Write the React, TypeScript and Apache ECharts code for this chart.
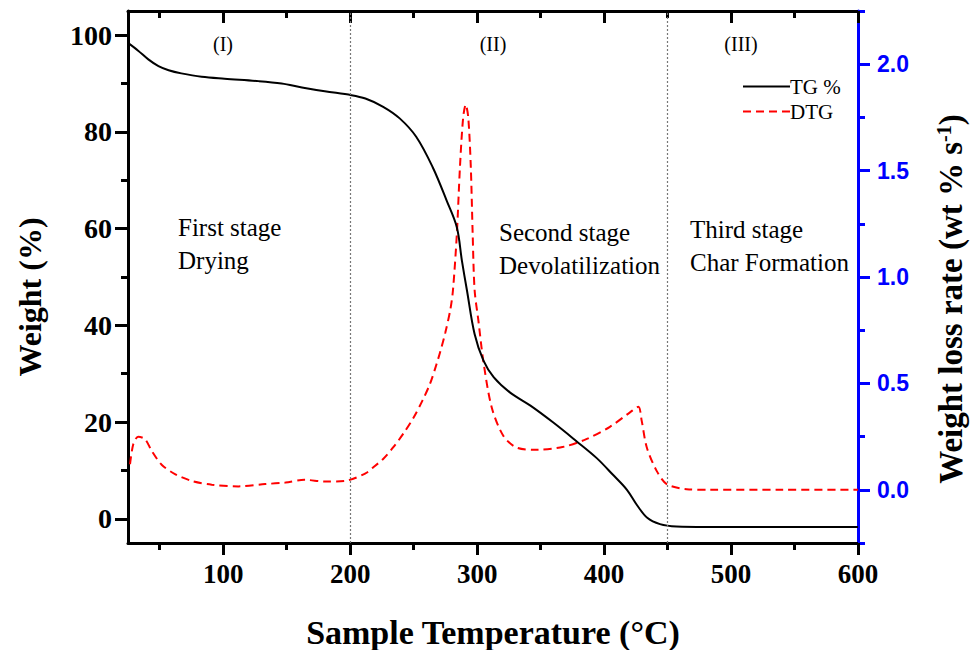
import React, { useEffect, useRef } from "react";
import * as echarts from "echarts";

const tgTemp = [25, 33, 41, 49, 57, 67, 83, 101, 128, 146, 162, 180, 201, 212, 226, 239, 252, 265, 276, 284, 288, 292, 298, 305, 313, 326, 342, 360, 378, 394, 407, 418, 426, 434, 444, 457, 480, 540, 600];
const tgWeight = [98.4, 96.8, 95.0, 93.6, 92.75, 92.1, 91.4, 91.0, 90.5, 90.0, 89.2, 88.4, 87.6, 86.9, 85.2, 82.8, 79, 72.7, 65.8, 60.3, 53.4, 47.2, 38.2, 32.7, 29.3, 26.1, 23.4, 19.9, 16.1, 12.6, 9.1, 6.0, 2.8, 0.2, -1.1, -1.6, -1.7, -1.7, -1.7];

const dtgTemp = [26.6, 29.2, 33, 38.4, 43.7, 51.5, 62, 75, 91, 112, 133, 149, 164, 180, 196, 212, 218, 226, 234, 242, 250, 257, 263, 268, 271, 275, 279, 281, 284, 286.5, 289, 291, 293, 295, 296.5, 298, 301, 305, 311.5, 320.6, 331, 347, 368, 386, 404.6, 420.4, 427, 429.6, 433.6, 441.4, 449.3, 465, 483, 540, 600];
const dtgRate = [0.12, 0.215, 0.249, 0.238, 0.183, 0.118, 0.074, 0.042, 0.024, 0.016, 0.027, 0.034, 0.047, 0.039, 0.042, 0.077, 0.105, 0.145, 0.2, 0.265, 0.34, 0.42, 0.5, 0.59, 0.65, 0.74, 0.85, 0.94, 1.2, 1.52, 1.75, 1.81, 1.75, 1.52, 1.2, 0.94, 0.795, 0.6, 0.387, 0.254, 0.199, 0.188, 0.202, 0.238, 0.296, 0.364, 0.39, 0.325, 0.2, 0.089, 0.027, 0.003, 0.0, 0.0, 0.0];

const xMajorTicks = [100, 200, 300, 400, 500, 600];
const xMinorTicks = [50, 150, 250, 350, 450, 550];
const yLeftMajor = [0, 20, 40, 60, 80, 100];
const yLeftMinor = [10, 30, 50, 70, 90];
const yRightMajor = [0, 0.5, 1.0, 1.5, 2.0];
const yRightMinor = [-0.25, 0.25, 0.75, 1.25, 1.75, 2.25];
const stageLines = [200, 450];

const SERIF = "'Liberation Serif', 'Times New Roman', serif";
const SANS = "'Liberation Sans', Arial, sans-serif";

export default function App() {
  const ref = useRef<HTMLDivElement>(null);
  useEffect(() => {
    document.body.style.margin = "0";
    const chart = echarts.init(ref.current!, null, { renderer: "svg" });
    const black = "#000";
    const blue = "#0000ff";
    const grid = { left: 128, right: 113, top: 11, bottom: 107 };
    const xBase = { type: "value", min: 25, max: 600, splitLine: { show: false } };
    const option: any = {
      animation: false,
      backgroundColor: "#fff",
      grid,
      legend: {
        data: ["TG %", "DTG"],
        orient: "vertical",
        left: 737,
        top: 71,
        itemWidth: 47,
        itemHeight: 12,
        itemGap: 4,
        itemStyle: { opacity: 0 },
        textStyle: { fontFamily: SERIF, fontSize: 21, color: black, padding: [0, 0, 0, -5] },
      },
      xAxis: [
        {
          ...xBase,
          position: "bottom",
          axisLine: { show: true, onZero: false, lineStyle: { color: black, width: 3 } },
          axisTick: { show: true, length: 12, lineStyle: { width: 3, color: black }, customValues: xMajorTicks },
          axisLabel: {
            customValues: xMajorTicks,
            margin: 17,
            fontFamily: SERIF,
            fontWeight: "bold",
            fontSize: 27,
            color: black,
          },
        },
        {
          ...xBase,
          position: "bottom",
          axisLine: { show: false, onZero: false },
          axisTick: { show: true, length: 7, lineStyle: { width: 3, color: black }, customValues: xMinorTicks },
          axisLabel: { show: false },
        },
        {
          ...xBase,
          position: "top",
          axisLine: { show: true, onZero: false, lineStyle: { color: black, width: 3 } },
          axisTick: { show: true, inside: true, length: 12, lineStyle: { width: 3, color: black }, customValues: xMajorTicks },
          axisLabel: { show: false },
        },
        {
          ...xBase,
          position: "top",
          axisLine: { show: false, onZero: false },
          axisTick: { show: true, inside: true, length: 7, lineStyle: { width: 3, color: black }, customValues: xMinorTicks },
          axisLabel: { show: false },
        },
      ],
      yAxis: [
        {
          type: "value",
          min: -5,
          max: 105,
          position: "left",
          splitLine: { show: false },
          axisLine: { show: true, onZero: false, lineStyle: { color: black, width: 3 } },
          axisTick: { show: true, length: 13, lineStyle: { width: 3, color: black }, customValues: yLeftMajor },
          axisLabel: {
            customValues: yLeftMajor,
            margin: 16,
            fontFamily: SERIF,
            fontWeight: "bold",
            fontSize: 28,
            color: black,
          },
        },
        {
          type: "value",
          min: -5,
          max: 105,
          position: "left",
          splitLine: { show: false },
          axisLine: { show: false, onZero: false },
          axisTick: { show: true, length: 7, lineStyle: { width: 3, color: black }, customValues: yLeftMinor },
          axisLabel: { show: false },
        },
        {
          type: "value",
          min: -0.25,
          max: 2.25,
          position: "right",
          splitLine: { show: false },
          axisLine: { show: true, onZero: false, lineStyle: { color: blue, width: 3 } },
          axisTick: { show: true, length: 12, lineStyle: { width: 3, color: blue }, customValues: yRightMajor },
          axisLabel: {
            customValues: yRightMajor,
            margin: 19,
            fontFamily: SANS,
            fontWeight: "bold",
            fontSize: 23,
            color: blue,
            formatter: (v: number) => v.toFixed(1),
          },
        },
        {
          type: "value",
          min: -0.25,
          max: 2.25,
          position: "right",
          splitLine: { show: false },
          axisLine: { show: false, onZero: false },
          axisTick: { show: true, length: 7, lineStyle: { width: 3, color: blue }, customValues: yRightMinor },
          axisLabel: { show: false },
        },
      ],
      series: [
        {
          name: "TG %",
          type: "line",
          xAxisIndex: 0,
          yAxisIndex: 0,
          data: tgTemp.map((t, i) => [t, tgWeight[i]]),
          symbol: "none",
          smooth: 0.35,
          lineStyle: { color: black, width: 2 },
          itemStyle: { color: black },
          z: 3,
          markLine: {
            silent: true,
            symbol: ["none", "none"],
            label: { show: false },
            lineStyle: { color: "#777", width: 1.2, type: [2, 2] },
            data: stageLines.map((v) => ({ xAxis: v })),
          },
        },
        {
          name: "DTG",
          type: "line",
          xAxisIndex: 0,
          yAxisIndex: 2,
          data: dtgTemp.map((t, i) => [t, dtgRate[i]]),
          symbol: "none",
          smooth: 0.3,
          lineStyle: { color: "#ff0000", width: 2, type: [8, 5] },
          itemStyle: { color: "#ff0000" },
          z: 2,
        },
      ],
      graphic: [
        { type: "text", x: 223, y: 44, style: { text: "(I)", font: `20px ${SERIF}`, fill: black, textAlign: "center", textVerticalAlign: "middle" } },
        { type: "text", x: 493, y: 44, style: { text: "(II)", font: `20px ${SERIF}`, fill: black, textAlign: "center", textVerticalAlign: "middle" } },
        { type: "text", x: 741, y: 44, style: { text: "(III)", font: `20px ${SERIF}`, fill: black, textAlign: "center", textVerticalAlign: "middle" } },
        { type: "text", x: 178, y: 244, style: { text: "First stage\nDrying", font: `25px ${SERIF}`, lineHeight: 33, fill: black, textAlign: "left", textVerticalAlign: "middle" } },
        { type: "text", x: 499, y: 249, style: { text: "Second stage\nDevolatilization", font: `25px ${SERIF}`, lineHeight: 33, fill: black, textAlign: "left", textVerticalAlign: "middle" } },
        { type: "text", x: 690, y: 246, style: { text: "Third stage\nChar Formation", font: `25px ${SERIF}`, lineHeight: 33, fill: black, textAlign: "left", textVerticalAlign: "middle" } },
        {
          type: "text",
          x: 493,
          y: 632,
          style: { text: "Sample Temperature (°C)", font: `bold 34px ${SERIF}`, fill: black, textAlign: "center", textVerticalAlign: "middle" },
        },
        {
          type: "text",
          x: 30,
          y: 297,
          rotation: Math.PI / 2,
          style: { text: "Weight (%)", font: `bold 32px ${SERIF}`, fill: black, textAlign: "center", textVerticalAlign: "middle" },
        },
        {
          type: "text",
          x: 951,
          y: 299,
          rotation: Math.PI / 2,
          style: {
            text: "{a|Weight loss rate (wt % s}{b|-1}{a|)}",
            textAlign: "center",
            textVerticalAlign: "middle",
            rich: {
              a: { fontFamily: SERIF, fontWeight: "bold", fontSize: 33, color: black },
              b: { fontFamily: SERIF, fontWeight: "bold", fontSize: 20, color: black, verticalAlign: "top", padding: [0, 0, 14, 0] },
            },
          },
        },
      ],
    };
    chart.setOption(option);
    return () => chart.dispose();
  }, []);
  return <div ref={ref} style={{ width: 971, height: 650 }} />;
}
